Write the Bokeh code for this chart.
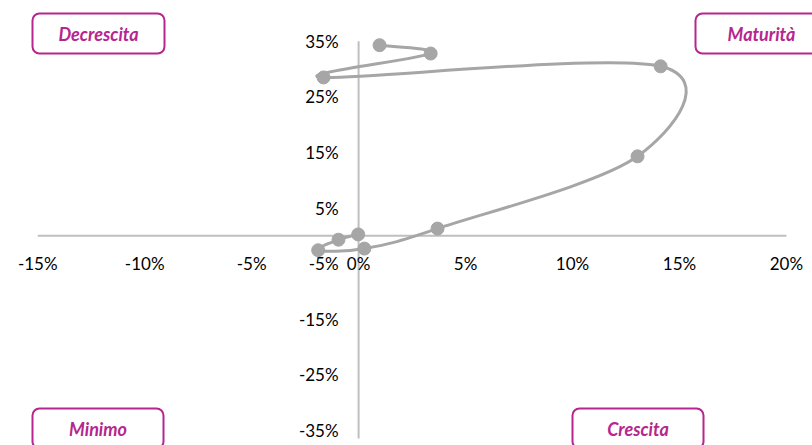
from bokeh.plotting import figure
from bokeh.models import BoxAnnotation, Label
from bokeh.core.properties import value
from bokeh.embed import file_html
from bokeh.resources import INLINE

# ---- data (percent) ----
x_vals = [0.98, 3.37, -1.64, 14.12, 13.04, 3.69, 0.27, -1.89, -0.94, -0.02]
y_vals = [34.3, 32.8, 28.5, 30.5, 14.3, 1.3, -2.3, -2.6, -0.7, 0.25]
x_ticks = [-15, -10, -5, 0, 5, 10, 15, 20]
x_tick_labels = ["-15%", "-10%", "-5%", "0%", "5%", "10%", "15%", "20%"]
y_ticks = [35, 25, 15, 5, -5, -15, -25, -35]
y_tick_labels = ["35%", "25%", "15%", "5%", "-5%", "-15%", "-25%", "-35%"]
quadrants = ["Decrescita", "Maturità", "Minimo", "Crescita"]

GRAY = "#A6A6A6"
AXIS = "#BFBFBF"
MAG = "#B5268E"
FONT = "Lato"

# page-pixel helpers
X0, SX = 358.1, 21.39
Y0, SY = 235.3, 5.557
def dx(px):
    return (px - X0) / SX
def dy(py):
    return (Y0 - py) / SY

W, H = 812, 445
p = figure(width=W, height=H, output_backend="svg", toolbar_location=None,
           x_range=(dx(0), dx(W)), y_range=(dy(H), dy(0)),
           x_axis_location=None, y_axis_location=None, min_border=0)
p.outline_line_color = None
p.xgrid.visible = False
p.ygrid.visible = False
p.background_fill_color = "white"

# axes lines
p.segment(x0=[x_ticks[0]], y0=[0], x1=[x_ticks[-1]], y1=[0], line_color=AXIS, line_width=2)
p.segment(x0=[0], y0=[y_ticks[0]], x1=[0], y1=[dy(438)], line_color=AXIS, line_width=2)

# tick labels
p.text(x=x_ticks, y=[0] * len(x_ticks), text=x_tick_labels, y_offset=28,
       text_align="center", text_baseline="middle", text_font=value(FONT),
       text_font_size="17px", text_color="#000000")
p.text(x=[0] * len(y_ticks), y=y_ticks, text=y_tick_labels, x_offset=-20,
       text_align="right", text_baseline="middle", text_font=value(FONT),
       text_font_size="17px", text_color="#000000")

# smoothed line (Catmull-Rom style Bezier like Excel)
n = len(x_vals)
xs0, ys0, xs1, ys1, c0x, c0y, c1x, c1y = [], [], [], [], [], [], [], []
for i in range(n - 1):
    pm = i - 1 if i > 0 else i
    pp = i + 2 if i + 2 < n else i + 1
    xs0.append(x_vals[i]); ys0.append(y_vals[i])
    xs1.append(x_vals[i + 1]); ys1.append(y_vals[i + 1])
    c0x.append(x_vals[i] + (x_vals[i + 1] - x_vals[pm]) / 6)
    c0y.append(y_vals[i] + (y_vals[i + 1] - y_vals[pm]) / 6)
    c1x.append(x_vals[i + 1] - (x_vals[pp] - x_vals[i]) / 6)
    c1y.append(y_vals[i + 1] - (y_vals[pp] - y_vals[i]) / 6)
p.bezier(x0=xs0, y0=ys0, x1=xs1, y1=ys1, cx0=c0x, cy0=c0y, cx1=c1x, cy1=c1y,
         line_color=GRAY, line_width=3)
p.scatter(x=x_vals, y=y_vals, size=13, fill_color=GRAY, line_color=GRAY)

# quadrant boxes (page pixel boxes)
boxes = [(32, 164, 13, 53), (695, 827, 13, 53), (32, 163, 408, 448), (572, 703, 408, 448)]
for name, (l, r, t, b) in zip(quadrants, boxes):
    p.add_layout(BoxAnnotation(left=dx(l), right=dx(r), top=dy(t), bottom=dy(b),
                               fill_color="white", fill_alpha=1.0, line_color=MAG,
                               line_alpha=1.0, line_width=2, border_radius=7))
    p.add_layout(Label(x=dx((l + r) / 2), y=dy((t + b) / 2 + 0.5), text=name,
                       text_align="center", text_baseline="middle", text_font=FONT,
                       text_font_size="18px", text_font_style="bold italic",
                       text_color=MAG))

open("out.html", "w").write(file_html(p, INLINE))
